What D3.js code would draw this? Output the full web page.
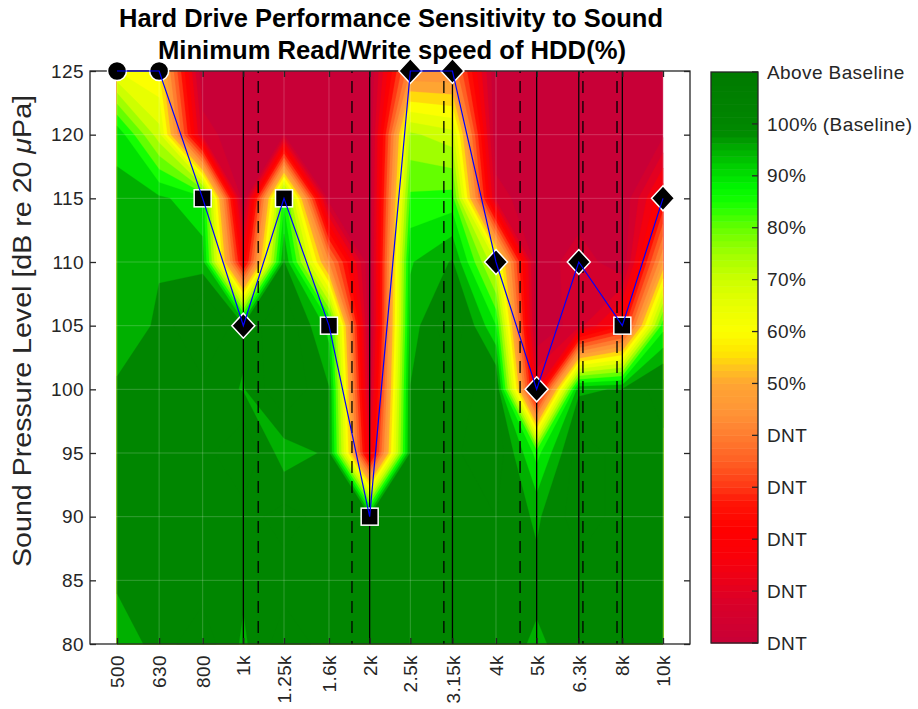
<!DOCTYPE html>
<html><head><meta charset="utf-8">
<script src="https://cdn.jsdelivr.net/npm/d3@7"></script>
<style>
body{margin:0;background:#fff;}
svg text{font-family:"Liberation Sans",Arial,Helvetica,sans-serif;fill:#262626;}
</style></head><body>
<svg id="chart" width="918" height="709"></svg>
<script>
// Test frequencies (Hz) and their tick labels
const freqs = [500,630,800,1000,1250,1600,2000,2500,3150,4000,5000,6300,8000,10000];
const freqLabels = ["500","630","800","1k","1.25k","1.6k","2k","2.5k","3.15k","4k","5k","6.3k","8k","10k"];
// Sound pressure levels of the grid rows (dB), top row first
const splLevels = [125,120,115,110,105,100,95,90,85,80];
// Minimum read/write speed (% of baseline) per SPL row, one value per frequency
const spl125 = [65, 60, 0, 0, 0, 0, 0, 45, 45, 0, 0, 0, 0, 0];
const spl120 = [94, 72, 8, 0, 5, 0, 0, 76, 72, 0, 0, 0, 0, 4];
const spl115 = [96, 96, 92, 0, 88, 2, 0, 86, 87, 8, 0, 0, 0, 25];
const spl110 = [96, 99.5, 97, 20, 100.5, 45, 0, 94.5, 100.5, 70, 0, 9, 0, 50];
const spl105 = [96, 101, 113, 101, 110, 93, 0, 97, 110, 90, 0, 8, 25, 88];
const spl100 = [101, 103, 103, 99.6, 110, 100.3, 5, 100.2, 104, 106, 15, 99, 100.5, 108];
const spl95  = [102, 103, 103, 110, 97, 101, 15, 100.5, 104, 109, 88, 108, 103, 103];
const spl90  = [102, 103, 103, 103, 107, 103, 101, 103, 104, 105, 99, 108, 103, 103];
const spl85  = [101.3, 103, 103, 101, 103, 103, 102, 103, 103, 103, 101.5, 103, 103, 103];
const spl80  = [95, 103, 108, 99, 108, 103, 102, 103, 103, 103, 99, 103, 103, 103];
// Highest SPL reached at each frequency and the marker used for it
const limitSpl = [125,125,115,105,115,105,90,125,125,110,100,110,105,115];
const limitShape = ["circle","circle","square","diamond","square","square","square","diamond","diamond","diamond","diamond","diamond","square","diamond"];
// Reference lines (Hz)
const solidLineFreqs = [1000,2000,3150,5000,6300,8000];
const dashedLineFreqs = [1085,1815,3005,4565,6445,7770];
// Colour bar ticks
const cbarTickValues = [110,100,90,80,70,60,50,40,30,20,10,0];
const cbarTickLabels = ["Above Baseline","100% (Baseline)","90%","80%","70%","60%","50%","DNT","DNT","DNT","DNT","DNT"];
const yTickValues = [80,85,90,95,100,105,110,115,120,125];

const rows = [spl125,spl120,spl115,spl110,spl105,spl100,spl95,spl90,spl85,spl80];
const nC = freqs.length, nR = splLevels.length;
const values = rows.flat();

const svg = d3.select("#chart");
const ax = {left:90, right:690, top:71, bottom:644};

const x = d3.scaleLog().domain([500,10000]).range([117,663]);
const y = d3.scaleLinear().domain([80,125]).range([ax.bottom, ax.top]);

// colour map: speed % -> colour
const cmapStops = [0,8,12,17,22,27,30,35,40,45,50,53,56,60,65,70,75,80,85,88,90,95,98,100,110];
const cmapColors = ["rgb(200,0,55)","rgb(218,0,40)","rgb(235,0,25)","rgb(250,0,8)","rgb(255,0,0)",
  "rgb(255,20,5)","rgb(255,55,20)","rgb(255,95,35)","rgb(255,125,48)","rgb(255,150,55)","rgb(255,165,50)",
  "rgb(255,195,30)","rgb(255,230,0)","rgb(252,255,0)","rgb(232,255,0)","rgb(205,255,0)","rgb(160,255,0)",
  "rgb(100,255,0)","rgb(20,255,0)","rgb(0,245,0)","rgb(0,225,0)","rgb(0,176,0)","rgb(0,140,0)",
  "rgb(0,134,0)","rgb(0,122,0)"];
const cmap = d3.scaleLinear().domain(cmapStops).range(cmapColors).interpolate(d3.interpolateRgb).clamp(true);

// ---- filled contours ----
const levels = d3.range(0, 110, 5);
const contours = d3.contours().size([nC, nR]).thresholds(levels)(values);
const xCols = freqs.map(f => x(f));
const yRows = splLevels.map(s => y(s));
function gridToPx(p){
  const c = Math.max(0, Math.min(nC-1, p[0]-0.5));
  const i0 = Math.min(nC-2, Math.floor(c)), tx = c - i0;
  const r = Math.max(0, Math.min(nR-1, p[1]-0.5));
  const j0 = Math.min(nR-2, Math.floor(r)), ty = r - j0;
  return [xCols[i0] + tx*(xCols[i0+1]-xCols[i0]), yRows[j0] + ty*(yRows[j0+1]-yRows[j0])];
}
function geomPath(g){
  let d = "";
  g.coordinates.forEach(poly => poly.forEach(ring => {
    d += "M" + ring.map(p => gridToPx(p).map(v => v.toFixed(2)).join(",")).join("L") + "Z";
  }));
  return d;
}
// everything at or above baseline shares one colour
const bandColor = v => cmap(Math.min(v, 100));
const cg = svg.append("g");
contours.forEach(c => {
  if (!c.coordinates.length) return;
  cg.append("path").attr("d", geomPath(c)).attr("fill", bandColor(c.value))
    .attr("fill-rule","evenodd").attr("stroke", bandColor(c.value)).attr("stroke-width",0.3);
});

// ---- grid ----
const grid = svg.append("g").attr("stroke","#fff").attr("stroke-opacity",0.2).attr("stroke-width",1);
yTickValues.forEach(v => grid.append("line").attr("x1",ax.left).attr("x2",ax.right).attr("y1",y(v)).attr("y2",y(v)));
freqs.forEach(f => grid.append("line").attr("x1",x(f)).attr("x2",x(f)).attr("y1",ax.top).attr("y2",ax.bottom));

// ---- reference lines ----
const vl = svg.append("g").attr("stroke","#000").attr("stroke-width",1.3);
solidLineFreqs.forEach(f => vl.append("line").attr("x1",x(f)).attr("x2",x(f)).attr("y1",ax.top).attr("y2",ax.bottom));
dashedLineFreqs.forEach(f => vl.append("line").attr("x1",x(f)).attr("x2",x(f)).attr("y1",ax.top).attr("y2",ax.bottom)
  .attr("stroke-dasharray","12,8").attr("stroke-dashoffset",-10));

// ---- axes ----
const tickFont = "19px";
const axL = svg.append("g").attr("transform",`translate(${ax.left},0)`)
  .call(d3.axisLeft(y).tickValues(yTickValues).tickSize(-6).tickPadding(6).tickFormat(d3.format("d")));
const axR = svg.append("g").attr("transform",`translate(${ax.right},0)`)
  .call(d3.axisRight(y).tickValues(yTickValues).tickSize(-6).tickFormat(""));
const axB = svg.append("g").attr("transform",`translate(0,${ax.bottom})`)
  .call(d3.axisBottom(x).tickValues(freqs).tickSize(-6).tickFormat((d,i)=>freqLabels[i]));
const axT = svg.append("g").attr("transform",`translate(0,${ax.top})`)
  .call(d3.axisTop(x).tickValues(freqs).tickSize(-6).tickFormat(""));
[axL,axR,axB,axT].forEach(a => {
  a.select(".domain").remove();
  a.selectAll(".tick line").attr("stroke","#262626").attr("stroke-width",1.3);
  a.selectAll("text").attr("font-size",tickFont).attr("fill","#262626").style("letter-spacing","0.4px");
});
axB.selectAll("text").attr("transform","rotate(-90)").attr("x",-11).attr("y",0)
  .attr("dy","0.35em").attr("text-anchor","end");
svg.append("rect").attr("x",ax.left).attr("y",ax.top).attr("width",ax.right-ax.left).attr("height",ax.bottom-ax.top)
  .attr("fill","none").attr("stroke","#262626").attr("stroke-width",1.3);

// ---- threshold markers and connecting line ----
const pts = freqs.map((f,i) => [x(f), y(limitSpl[i]), limitShape[i]]);
const mg = svg.append("g").attr("fill","#000").attr("stroke","#fff").attr("stroke-width",1.5);
pts.forEach(p => {
  if (p[2] === "circle") mg.append("circle").attr("cx",p[0]).attr("cy",p[1]).attr("r",9.5);
  else if (p[2] === "square") mg.append("rect").attr("x",p[0]-8.5).attr("y",p[1]-8.5).attr("width",17).attr("height",17);
  else mg.append("path").attr("d",`M${p[0]},${p[1]-12.5}L${p[0]+11.5},${p[1]}L${p[0]},${p[1]+12.5}L${p[0]-11.5},${p[1]}Z`);
});
svg.append("path").attr("d", d3.line()(pts.map(p => [p[0],p[1]])))
  .attr("fill","none").attr("stroke","#0000ff").attr("stroke-width",1.2);

// ---- title and axis label ----
const title = svg.append("g").attr("font-weight","bold").attr("font-size","25px");
title.append("text").attr("x",391).attr("y",27).attr("text-anchor","middle").style("fill","#000")
  .attr("textLength",544).attr("lengthAdjust","spacingAndGlyphs").text("Hard Drive Performance Sensitivity to Sound");
title.append("text").attr("x",392).attr("y",59).attr("text-anchor","middle").style("fill","#000")
  .attr("textLength",468).attr("lengthAdjust","spacingAndGlyphs").text("Minimum Read/Write speed of HDD(%)");
const yl = svg.append("text").attr("transform","translate(31,331) rotate(-90)").attr("text-anchor","middle")
  .attr("font-size","26.5px").attr("textLength",472).attr("lengthAdjust","spacingAndGlyphs");
yl.append("tspan").text("Sound Pressure Level [dB re 20 ");
yl.append("tspan").attr("font-style","italic").text("\u03bc");
yl.append("tspan").text("Pa]");

// ---- colour bar ----
const cb = {left:711, right:758, top:72, bottom:643};
const cy = d3.scaleLinear().domain([0,110]).range([cb.bottom, cb.top]);
const cbg = svg.append("g");
const step = 110/88;
d3.range(0, 110, step).forEach(v => {
  cbg.append("rect").attr("x",cb.left).attr("width",cb.right-cb.left)
    .attr("y",cy(v+step)).attr("height",cy(v)-cy(v+step)+0.5).attr("fill",cmap(v+step/2));
});
cbg.append("rect").attr("x",cb.left).attr("y",cb.top).attr("width",cb.right-cb.left).attr("height",cb.bottom-cb.top)
  .attr("fill","none").attr("stroke","#262626").attr("stroke-width",1.3);
cbarTickValues.forEach((v,i) => {
  cbg.append("line").attr("x1",cb.right-6).attr("x2",cb.right).attr("y1",cy(v)).attr("y2",cy(v))
    .attr("stroke","#262626").attr("stroke-width",1.3);
  cbg.append("text").attr("x",767).attr("y",cy(v)).attr("dy","0.35em").attr("font-size",tickFont)
    .style("letter-spacing","0.4px").text(cbarTickLabels[i]);
});
</script>
</body></html>
